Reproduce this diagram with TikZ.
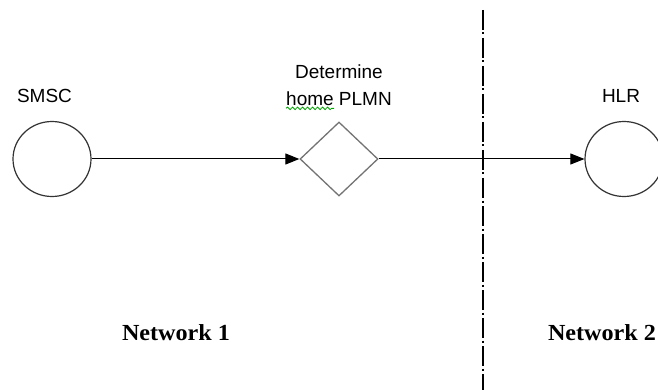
\documentclass[tikz,border=0pt]{standalone}
\usepackage{fontspec}
\setmainfont{Liberation Serif}
\newfontfamily\labelfont{Liberation Sans}
\newfontfamily\netfont{Liberation Serif}[FakeStretch=1.05]
\usetikzlibrary{arrows.meta,shapes.geometric,decorations.pathmorphing}
\begin{document}
\begin{tikzpicture}[x=1pt,y=-1pt,
  ell/.style={draw=black!80, line width=1.2pt, ellipse, minimum width=78pt, minimum height=75pt, inner sep=0pt},
  dia/.style={draw=black!55, line width=1.3pt, diamond, minimum width=78pt, minimum height=74pt, inner sep=0pt},
  lbl/.style={font=\labelfont\fontsize{19}{27}\selectfont, align=center, inner sep=0pt},
  net/.style={font=\netfont\bfseries\fontsize{23}{26}\selectfont, inner sep=0pt, anchor=base},
  arr/.style={line width=1pt, -{Triangle[length=14pt,width=11pt]}},
  sep/.style={line width=1.1pt, dash pattern=on 20pt off 2.5pt on 2pt off 3.5pt},
  wavy/.style={draw=green!65!black, line width=0.8pt, decorate, decoration={snake, amplitude=1.3pt, segment length=5pt}}]
\useasboundingbox (0,0) rectangle (658,390);
\clip (0,0) rectangle (658,390);
\node[ell] (smsc) at (52,159) {};
\node[dia] (det) at (339,159) {};
\node[ell] (hlr) at (624,159) {};
\node[lbl, anchor=base] (smscl) at (44.5,103) {SMSC};
\node[lbl, anchor=base] (hlrl) at (621,103) {HLR};
\node[lbl, anchor=north] (detl) at (339,64.5) {Determine\\home PLMN};
\node[net] (n1) at (176,340) {Network 1};
\node[net] (n2) at (602,340) {Network 2};
\coordinate (sept) at (483,10);
\coordinate (sepb) at (483,390);
\draw[sep] (sept) -- (sepb);
\draw[arr] (smsc.east) -- (det.west);
\draw[arr] (det.east) -- (hlr.west);
\draw[wavy] ([yshift=-2.5pt]detl.south west) -- ([xshift=48pt,yshift=-2.5pt]detl.south west);
\end{tikzpicture}
\end{document}
